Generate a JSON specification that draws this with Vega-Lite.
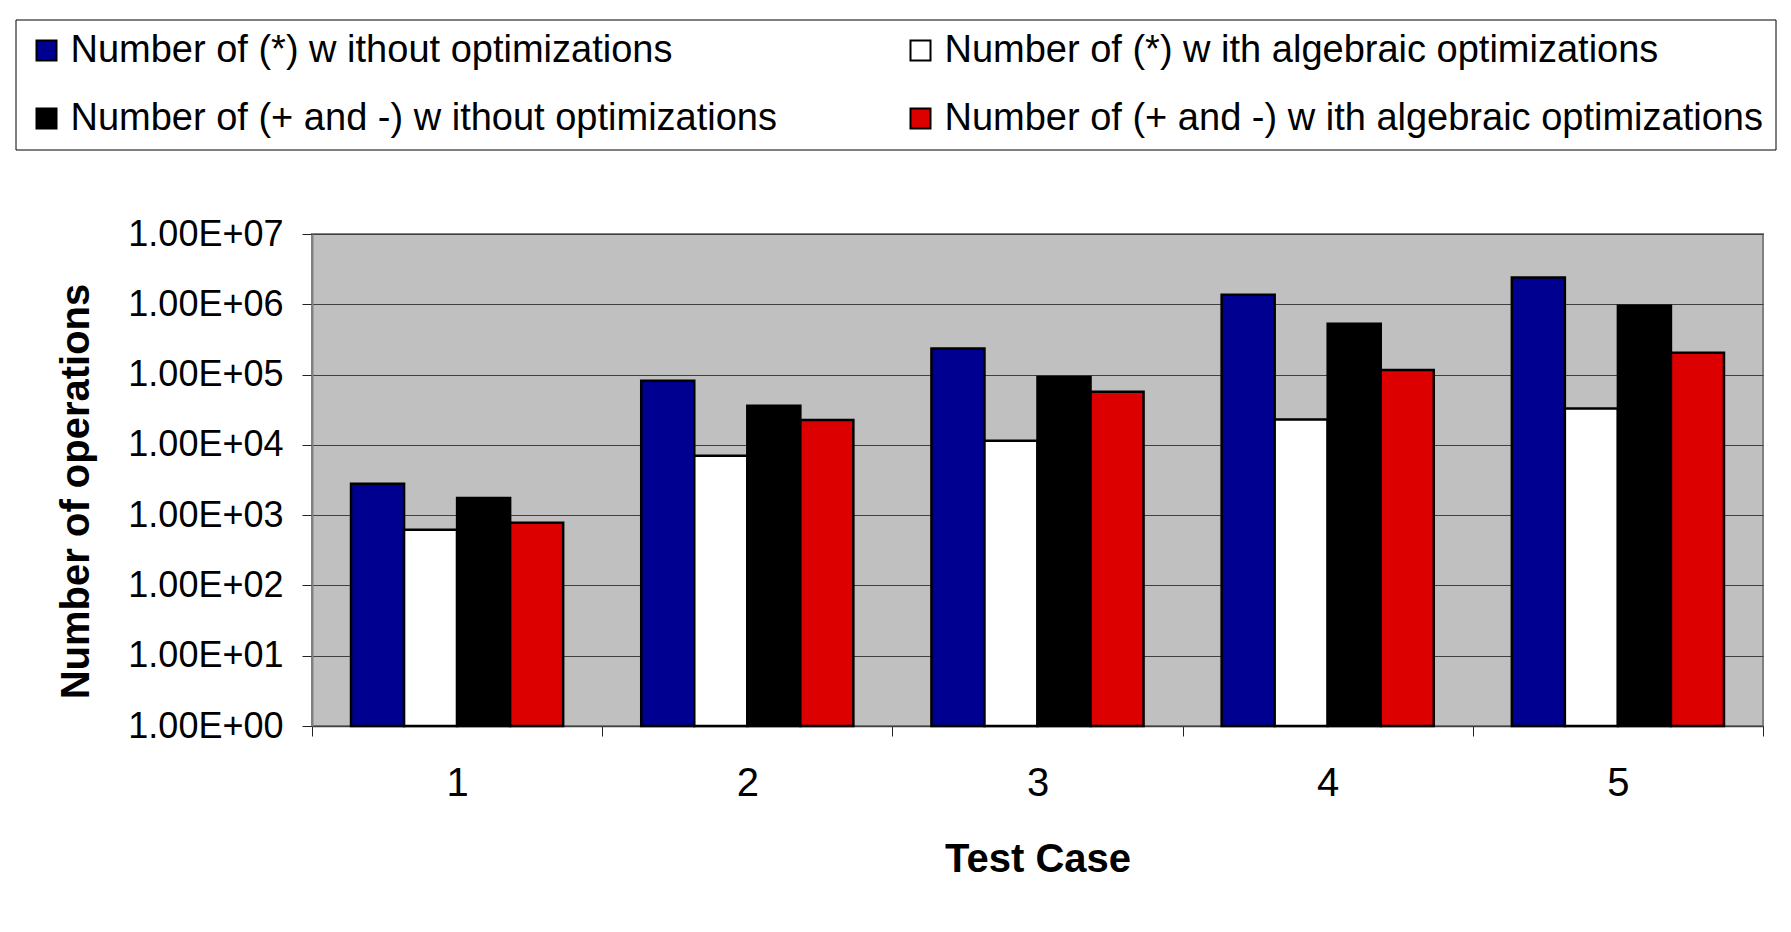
{
  "$schema": "https://vega.github.io/schema/vega-lite/v6.json",
  "width": 1451,
  "height": 492,
  "autosize": {"type": "none"},
  "padding": {"left": 312, "top": 234, "right": 28, "bottom": 206},
  "background": "white",
  "data": {
    "values": [
      {"case": "1", "series": "Number of (*) w ithout optimizations", "ops": 2800},
      {"case": "1", "series": "Number of (*) w ith algebraic optimizations", "ops": 620},
      {"case": "1", "series": "Number of (+ and -) w ithout optimizations", "ops": 1750},
      {"case": "1", "series": "Number of (+ and -) w ith algebraic optimizations", "ops": 780},
      {"case": "2", "series": "Number of (*) w ithout optimizations", "ops": 82000},
      {"case": "2", "series": "Number of (*) w ith algebraic optimizations", "ops": 7000},
      {"case": "2", "series": "Number of (+ and -) w ithout optimizations", "ops": 36000},
      {"case": "2", "series": "Number of (+ and -) w ith algebraic optimizations", "ops": 22500},
      {"case": "3", "series": "Number of (*) w ithout optimizations", "ops": 235000},
      {"case": "3", "series": "Number of (*) w ith algebraic optimizations", "ops": 11400},
      {"case": "3", "series": "Number of (+ and -) w ithout optimizations", "ops": 92000},
      {"case": "3", "series": "Number of (+ and -) w ith algebraic optimizations", "ops": 57000},
      {"case": "4", "series": "Number of (*) w ithout optimizations", "ops": 1370000},
      {"case": "4", "series": "Number of (*) w ith algebraic optimizations", "ops": 23000},
      {"case": "4", "series": "Number of (+ and -) w ithout optimizations", "ops": 530000},
      {"case": "4", "series": "Number of (+ and -) w ith algebraic optimizations", "ops": 116000},
      {"case": "5", "series": "Number of (*) w ithout optimizations", "ops": 2400000},
      {"case": "5", "series": "Number of (*) w ith algebraic optimizations", "ops": 33000},
      {"case": "5", "series": "Number of (+ and -) w ithout optimizations", "ops": 950000},
      {"case": "5", "series": "Number of (+ and -) w ith algebraic optimizations", "ops": 205000}
    ]
  },
  "mark": {"type": "bar", "stroke": "black", "strokeWidth": 2.5, "opacity": 1},
  "encoding": {
    "x": {
      "field": "case",
      "type": "ordinal",
      "scale": {"paddingInner": 0, "paddingOuter": 0},
      "axis": {
        "title": "Test Case",
        "titleFont": "Liberation Sans",
        "titleFontSize": 40,
        "titleFontWeight": "bold",
        "titleColor": "black",
        "titleY": 145,
        "titleBaseline": "alphabetic",
        "labelAngle": 0,
        "labelFont": "Liberation Sans",
        "labelFontSize": 40,
        "labelColor": "black",
        "labelBaseline": "alphabetic",
        "labelPadding": 59,
        "tickSize": 10,
        "tickBand": "extent",
        "tickColor": "#222222",
        "domainColor": "#404040",
        "domainWidth": 1.5,
        "grid": false
      }
    },
    "xOffset": {
      "field": "series",
      "type": "nominal",
      "sort": [
        "Number of (*) w ithout optimizations",
        "Number of (*) w ith algebraic optimizations",
        "Number of (+ and -) w ithout optimizations",
        "Number of (+ and -) w ith algebraic optimizations"
      ],
      "scale": {"paddingInner": 0, "paddingOuter": 0.736}
    },
    "y": {
      "field": "ops",
      "type": "quantitative",
      "scale": {"type": "log", "domain": [1, 10000000], "nice": false},
      "axis": {
        "values": [1, 10, 100, 1000, 10000, 100000, 1000000, 10000000],
        "labelExpr": "'1.00E+0' + format(round(log(datum.value) / LN10), 'd')",
        "labelFont": "Liberation Sans",
        "labelFontSize": 36,
        "labelColor": "black",
        "labelPadding": 19,
        "tickSize": 10,
        "tickColor": "#222222",
        "grid": true,
        "gridColor": "#404040",
        "gridWidth": 1,
        "domainColor": "#808080",
        "domainWidth": 2,
        "title": "Number of operations",
        "titleFont": "Liberation Sans",
        "titleFontSize": 40,
        "titleFontWeight": "bold",
        "titleColor": "black",
        "titleAngle": -90,
        "titleX": -224,
        "titleY": 257,
        "titleAlign": "center",
        "titleBaseline": "alphabetic"
      }
    },
    "y2": {"datum": 1},
    "color": {
      "field": "series",
      "type": "nominal",
      "scale": {
        "domain": [
          "Number of (*) w ithout optimizations",
          "Number of (+ and -) w ithout optimizations",
          "Number of (*) w ith algebraic optimizations",
          "Number of (+ and -) w ith algebraic optimizations"
        ],
        "range": ["#000090", "#000000", "#ffffff", "#dd0000"]
      },
      "legend": {
        "title": null,
        "orient": "none",
        "legendX": -296.5,
        "legendY": -214.5,
        "columns": 2,
        "labelFont": "Liberation Sans",
        "labelFontSize": 38,
        "labelColor": "black",
        "labelLimit": 2000,
        "symbolType": "square",
        "symbolSize": 400,
        "symbolStrokeColor": "black",
        "symbolStrokeWidth": 2,
        "symbolOpacity": 1,
        "labelOffset": 5,
        "rowPadding": 30,
        "columnPadding": 124,
        "padding": 12,
        "strokeColor": "black",
        "fillColor": "white"
      }
    }
  },
  "config": {
    "view": {"fill": "#c0c0c0", "stroke": "#808080", "strokeWidth": 2}
  }
}
